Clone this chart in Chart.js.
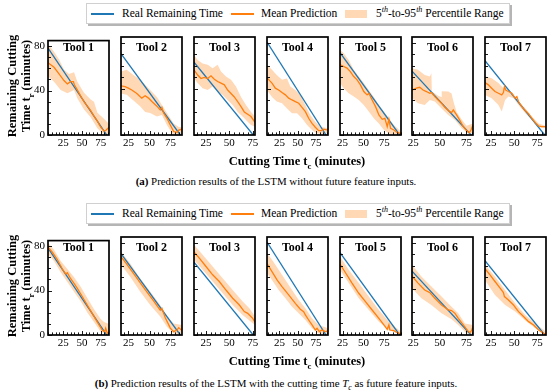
<!DOCTYPE html>
<html><head><meta charset="utf-8">
<script src="https://cdn.jsdelivr.net/npm/chart.js@4.4.0/dist/chart.umd.min.js"></script>
<style>
html,body{margin:0;padding:0;background:#fff;}
body{width:550px;height:392px;position:relative;overflow:hidden;font-family:'Liberation Serif',serif;color:#000;}
canvas{position:absolute;}
.legend{position:absolute;left:86px;width:422px;height:19px;border:1px solid #d0d0d0;background:#fff;box-shadow:2px 2px 0 #b5b5b5;font-size:11.5px;}
.legend .ln{position:absolute;top:9px;width:23px;height:1.5px;}
.legend .tx{position:absolute;top:2px;line-height:15px;white-space:nowrap;}
.legend .pt{position:absolute;top:6px;width:22px;height:8px;background:rgba(255,127,14,0.3);}
.cap{position:absolute;left:0;width:552px;text-align:center;font-size:10.9px;white-space:nowrap;}
.xt{position:absolute;left:197px;width:200px;text-align:center;font-weight:bold;font-size:12.5px;white-space:nowrap;}
.yt{position:absolute;left:-42px;width:120px;height:26px;line-height:14px;text-align:center;font-weight:bold;font-size:12.5px;transform:rotate(-90deg);white-space:nowrap;}
.tool{position:absolute;width:61px;text-align:center;font-weight:bold;font-size:12px;line-height:14px;}
sub,sup{font-size:70%;line-height:0;}
</style>
</head><body>
<script>
// ---------------- DATA ----------------
const tools = ['Tool 1','Tool 2','Tool 3','Tool 4','Tool 5','Tool 6','Tool 7'];
const xTickVals = [25, 50, 75];
const yTickVals = [0, 40, 80];
const yMax = 85;
const xMin = [4.7, 16.1, 12.3, 8.1, 21.9, 23.9, 18.5];
const xMax = [86, 88.6, 77.4, 91.4, 95, 81.1, 84.4];

// real remaining time (start, end) per tool
const realTime = [
  [[4.7,78.3],[83,0]], [[16.1,70.5],[86.6,0]], [[12.3,63.2],[75.5,0]], [[8.1,80.6],[88.7,0]],
  [[21.9,71.5],[93.4,0]], [[23.9,55.4],[79.3,0]], [[18.5,64.5],[83,0]]
];

// (a) LSTM without future feature inputs
const meanA = [
  [[4.7,65],[12.7,61],[19.4,55],[26,49],[30.5,46],[34.9,48],[38.5,48],[40,45],[43.8,40.6],[48.3,35],[52.7,30],[57.1,26],[61.6,22],[66,17],[70.5,12.5],[74.9,7],[79.4,3.5],[81.6,4],[86,7]],
  [[16.1,42.6],[20.9,42],[24.9,40.6],[28.9,39],[34.9,36],[40.8,32],[44.8,34],[48.8,32],[52.8,29],[58.8,25],[62.7,21.7],[64.7,24],[66.7,19],[70.7,14.5],[74.7,8.7],[78.7,3],[82.7,2.3],[84.7,4.3],[88.6,5]],
  [[12.3,56.5],[16.2,52],[19.8,49],[23.3,50],[26.9,49],[30.4,51.3],[34,48.4],[37.5,46.4],[41.1,45],[44.7,43.5],[48.2,39],[51.8,36],[55.3,33],[58.9,29],[62.5,24.6],[66,20],[69.6,18],[73.1,16],[77.4,11]],
  [[8.1,49.5],[14.9,45],[19.5,40.6],[24,39],[28.6,36.8],[33.2,34.8],[37.7,32],[42.3,30.4],[46.8,29],[51.4,27.5],[55.9,24],[60.5,20.3],[65,14.5],[69.6,10],[74.1,6.7],[78.7,3.8],[83.2,3.8],[85.5,5],[91.4,4.3]],
  [[21.9,61],[26.3,59.4],[30.3,58],[34.3,55],[38.4,50.7],[42.4,47.8],[46.4,43.5],[50.4,37.7],[54.4,34.8],[56.4,36.2],[60.4,30.4],[64.5,24.6],[68.5,17.4],[72.5,13.6],[75.7,14.5],[78.5,7.2],[80.5,13.6],[82.5,5.8],[86.5,4.3],[90.6,2],[95,1.4]],
  [[23.9,39],[28,40.6],[31.1,41.4],[34.3,39],[37.4,37.7],[40.6,36.2],[42.1,36.8],[45.3,33.3],[48.4,30.4],[51.6,27.5],[54.7,24],[57.9,21.2],[61,19.4],[62.6,21.7],[65.7,17.4],[68.9,12.5],[72,7.2],[75.2,3.8],[77.7,2],[79.2,4.3],[81.1,8.7]],
  [[18.5,45.5],[22.1,43.5],[25.7,40.6],[29.3,37.7],[33,36.2],[36.6,34.8],[38.4,36.8],[39.5,42],[40.9,39],[43.8,37.7],[47.5,36.2],[51.1,32],[52.9,33.3],[54.7,29],[58.3,24.6],[62,21.2],[65.6,18.3],[69.2,14.5],[72.8,10.7],[76.4,7.8],[79.3,7.2],[84.4,7.2]]
];
const hiA = [
  [[4.7,82],[12.7,75],[19.4,68],[26,59],[32.7,55],[39.4,56.5],[43.8,48],[52.7,38],[61.6,32],[66,30],[70.5,20],[77.1,16],[81.6,13],[86,10]],
  [[16.1,55],[22.9,56.5],[30.9,52],[38.8,48],[42.8,45],[50.8,39],[58.8,33],[64.7,26],[70.7,19],[78.7,10],[84.7,7],[88.6,6.7]],
  [[12.3,69.6],[16.2,65],[21.5,62],[26.9,61],[32.2,58],[37.5,61],[41.1,55],[46.4,50.7],[51.8,48],[57.1,42],[62.5,33],[67.8,26],[73.1,20],[77.4,16]],
  [[8.1,61],[14.9,56.5],[21.4,52],[28.6,48],[35.4,49],[40,42],[46.8,39],[53.6,34.8],[60.5,26],[67.3,17.4],[74.1,11.6],[81,7.2],[91.4,5.8]],
  [[21.9,74],[26.3,71],[32.3,65],[38.4,56.5],[44.4,50.7],[50.4,45],[56.4,39],[62.4,33],[68.5,26],[74.5,20.3],[80.5,14.5],[86.5,8.7],[95,2.9]],
  [[23.9,58],[29.5,56.5],[35.8,52],[40.6,50.7],[42.1,53.6],[42.5,38],[48.4,34],[51.4,33],[51.8,38],[57.9,37.7],[61,36],[62.5,30],[65.7,20],[70,14],[75,8],[81.1,10]],
  [[18.5,51],[25.7,49.3],[33,45],[38.4,40.6],[39.5,43],[42,39],[47.5,34.8],[54.7,29],[62,23.2],[69.2,16],[76.4,10],[84.4,7.8]]
];
const loA = [
  [[4.7,53],[12.7,48],[21.6,40.6],[30.5,37.7],[39.4,40.6],[43.8,33],[52.7,23],[61.6,16],[70.5,6],[77.1,1.5],[86,0]],
  [[16.1,36],[22.9,35],[30.9,30],[38.8,25],[44.8,20],[50.8,19],[58.8,16],[64.7,17.4],[70.7,8.7],[76.7,1.5],[82.7,0],[88.6,1.5]],
  [[12.3,49],[16.2,45],[21.5,40.6],[26.9,39],[32.2,42],[37.5,37.7],[42.9,34.8],[48.2,30.4],[53.6,26],[58.9,20],[64.2,16],[69.6,11.6],[73.1,8.7],[77.4,7.2]],
  [[8.1,39],[14.9,33],[21.4,29],[28.6,27.5],[35.4,23],[42.3,18.8],[49.1,18.8],[55.9,14.5],[62.8,8.7],[69.6,4.3],[76.4,1.4],[83.2,1],[91.4,1.4]],
  [[21.9,45],[26.3,40.6],[32.3,36.2],[38.4,33.3],[44.4,30.4],[50.4,26],[56.4,20.3],[62.4,14.5],[68.5,10],[74.5,4.3],[80.5,1.4],[86.5,0.6],[95,0.3]],
  [[23.9,32],[29.5,27.5],[35.8,26],[40.6,30.4],[45.3,29],[51.6,23],[57.9,17.4],[64.2,13],[70.4,5.8],[76.7,1.4],[81.1,1.4]],
  [[18.5,34.8],[25.7,31.9],[33,26],[36.6,20.3],[40.2,30.4],[43.8,33.3],[49.3,31.9],[54.7,26],[62,18.8],[69.2,13],[76.4,6.7],[84.4,5.8]]
];

// (b) LSTM with cutting time Tc as future feature input
const meanB = [
  [[4.7,79],[10.5,74.5],[17.1,68],[23.8,59.4],[28.3,55],[30.5,56],[34.9,50.7],[39.4,46.4],[43.8,42],[52.7,32],[61.6,21.7],[70.5,11.6],[77.1,4.3],[80.3,2.9],[81.6,6],[83.8,1.4],[86,3]],
  [[16.1,68],[22.9,61.5],[30.9,53.5],[38.8,45.5],[46.8,37.5],[54.8,29.5],[62.7,21.5],[64.7,23.2],[68.7,15],[74.7,6],[78.7,2.9],[82.7,4.3],[84.7,6.4],[88.6,3.8]],
  [[12.3,72],[18,66.7],[25.1,59.4],[32.2,52.2],[39.3,46.4],[46.4,39],[53.6,31.9],[60.7,26],[66,20.3],[69.6,18.8],[71.4,17.4],[74.9,14.5],[77.4,11]],
  [[8.1,62],[14.9,55],[21.8,47.8],[28.6,42],[37.7,34.8],[46.8,27.5],[53.6,22.3],[58.2,20.3],[60.5,17.4],[65,13],[69.6,8.7],[74.1,4.3],[76.4,5.8],[79.6,2.9],[83.2,4.3],[87.8,2.9],[91.4,3.5]],
  [[21.9,61.5],[28.3,54.2],[36.3,45],[44.4,36.2],[52.4,29],[60.4,21.7],[68.5,14.5],[74.5,8.7],[78.5,4.9],[80.5,8.7],[81.7,4.3],[86.5,3.8],[90.6,2],[95,0.9]],
  [[23.9,51],[29.6,45],[35.8,39],[40.6,36.8],[45.3,31.9],[51.6,26],[57.9,21.7],[61,21.2],[64.2,18.8],[67.3,14.5],[72,8.7],[76.1,3.8],[78.3,2],[79.9,4.3],[81.1,7.2]],
  [[18.5,57.5],[23.9,52.2],[29.3,46.4],[34.8,40.6],[38.4,36.8],[39.5,33.3],[43.8,30.4],[49.3,26],[54.7,20.3],[60.1,16],[65.6,11.6],[71,8.7],[76.4,4.3],[81.9,1.4],[84.4,0.9]]
];
const hiB = [
  [[4.7,83],[12.7,76.8],[21.6,66.7],[30.5,59.4],[39.4,52],[48.3,43.5],[57.1,33.3],[66,23.2],[74.9,14.5],[79.4,11.6],[86,10]],
  [[16.1,72.5],[26.9,62.3],[38.8,49.3],[50.8,37.7],[62.7,26],[70.7,16],[78.7,10],[88.6,8.7]],
  [[12.3,78.3],[21.5,69.6],[32.2,59.4],[42.9,49.3],[53.6,39],[64.2,29],[71.4,23.2],[77.4,16]],
  [[8.1,71],[14.9,65.2],[24,56.5],[33.2,47.8],[42.3,39],[51.4,30.4],[60.5,23.2],[69.6,14.5],[78.7,8.7],[91.4,5.8]],
  [[21.9,68],[32.3,56.5],[44.4,45],[56.4,33.3],[68.5,21.7],[80.5,11.6],[95,2.9]],
  [[23.9,61],[32.7,50.7],[42.1,42],[51.6,33.3],[61,24.6],[67.3,18.8],[73.6,10],[81.1,8.7]],
  [[18.5,61],[29.3,50.7],[40.2,39],[51.1,27.5],[62,17.4],[72.8,10],[84.4,2.9]]
];
const loB = [
  [[4.7,73],[12.7,66.7],[21.6,56.5],[30.5,47.8],[39.4,39],[48.3,30.4],[57.1,20.3],[66,11.6],[74.9,2.9],[86,0]],
  [[16.1,61],[26.9,50.7],[38.8,37.7],[50.8,26],[62.7,16],[70.7,7.2],[78.7,1.4],[88.6,0.6]],
  [[12.3,65.2],[21.5,56.5],[32.2,46.4],[42.9,36.2],[53.6,26],[64.2,17.4],[71.4,12.5],[77.4,8.7]],
  [[8.1,53.6],[14.9,47.8],[24,39],[33.2,31.9],[42.3,24.6],[51.4,18.8],[60.5,13],[69.6,5.8],[78.7,1.4],[91.4,0.9]],
  [[21.9,56.5],[32.3,45],[44.4,31.9],[56.4,21.7],[68.5,11.6],[80.5,4.3],[95,0.3]],
  [[23.9,40.6],[32.7,31.9],[42.1,26],[51.6,18.8],[61,13.6],[67.3,8.7],[75.2,1.4],[81.1,0.6]],
  [[18.5,47.8],[29.3,34.8],[40.2,26],[51.1,20.3],[62,12.5],[72.8,5.8],[84.4,0.6]]
];

// ---------------- LAYOUT ----------------
const BLUE = '#1f77b4', ORANGE = '#ff7f0e', BAND = 'rgba(255,127,14,0.3)';
const FONT = "'Liberation Serif', serif";
const panelLeft = [48, 121, 194, 267, 340, 412, 485];
const rows = [
  {top: 37, mean: meanA, hi: hiA, lo: loA},
  {top: 237, mean: meanB, hi: hiB, lo: loB}
];
const PW = 61, PH = 98, PADL = 22, PADT = 6, PADR = 8, PADB = 18;

const pts = arr => arr.map(p => ({x: p[0], y: p[1]}));

const frameTicks = {
  id: 'frameTicks',
  afterDatasetsDraw(chart) {
    const {ctx, chartArea: a, scales: {x, y}} = chart;
    ctx.save();
    ctx.strokeStyle = '#000';
    ctx.lineWidth = 0.9;
    for (let v = Math.ceil(x.min / 5) * 5; v <= x.max; v += 5) {
      const px = Math.round(x.getPixelForValue(v)) + 0.5;
      const len = (v % 25 === 0) ? 4 : 2.6;
      ctx.beginPath(); ctx.moveTo(px, a.bottom); ctx.lineTo(px, a.bottom - len); ctx.stroke();
    }
    for (let v = 0; v <= y.max; v += 10) {
      const py = Math.round(y.getPixelForValue(v)) + 0.5;
      const len = (v % 40 === 0) ? 4 : 3;
      ctx.beginPath(); ctx.moveTo(a.left, py); ctx.lineTo(a.left + len, py); ctx.stroke();
    }
    ctx.lineWidth = 1.7;
    ctx.strokeRect(a.left, a.top, a.width, a.height);
    ctx.restore();
  }
};

rows.forEach((row, r) => {
  tools.forEach((name, i) => {
    const c = document.createElement('canvas');
    const W = PADL + PW + PADR, H = PADT + PH + PADB;
    c.width = W; c.height = H;
    c.style.width = W + 'px'; c.style.height = H + 'px';
    c.style.left = (panelLeft[i] - PADL) + 'px';
    c.style.top = (row.top - PADT) + 'px';
    document.body.appendChild(c);

    const t = document.createElement('div');
    t.className = 'tool';
    t.textContent = name;
    t.style.left = panelLeft[i] + 'px';
    t.style.top = (row.top + 3) + 'px';
    document.body.appendChild(t);

    new Chart(c, {
      type: 'line',
      data: {
        datasets: [
          {data: pts(row.lo[i]), borderColor: 'rgba(0,0,0,0)', borderWidth: 0, pointRadius: 0, fill: false, order: 4},
          {data: pts(row.hi[i]), borderColor: 'rgba(0,0,0,0)', borderWidth: 0, pointRadius: 0, fill: '-1', backgroundColor: BAND, order: 3},
          {data: pts(realTime[i]), borderColor: BLUE, borderWidth: 1.3, pointRadius: 0, fill: false, order: 2},
          {data: pts(row.mean[i]), borderColor: ORANGE, borderWidth: 1.3, pointRadius: 0, fill: false, order: 1}
        ]
      },
      options: {
        responsive: false,
        animation: false,
        devicePixelRatio: 1,
        layout: {padding: {left: 0, top: PADT, right: PADR, bottom: 0}},
        plugins: {legend: {display: false}, tooltip: {enabled: false}},
        elements: {line: {tension: 0}},
        scales: {
          x: {
            type: 'linear', min: xMin[i], max: xMax[i],
            grid: {display: false, drawTicks: false}, border: {display: false},
            afterBuildTicks: s => { s.ticks = xTickVals.map(v => ({value: v})); },
            afterFit: s => { s.height = PADB; },
            ticks: {font: {family: FONT, size: 11}, color: '#000', padding: 2, maxRotation: 0, autoSkip: false}
          },
          y: {
            type: 'linear', min: 0, max: yMax,
            grid: {display: false, drawTicks: false}, border: {display: false},
            afterBuildTicks: s => { s.ticks = yTickVals.map(v => ({value: v})); },
            afterFit: s => { s.width = PADL; },
            ticks: {display: i === 0, font: {family: FONT, size: 11}, color: '#000', padding: 3, autoSkip: false}
          }
        }
      },
      plugins: [frameTicks]
    });
  });
});
</script>

<div class="legend" style="top:3px">
  <div class="ln" style="left:4px;background:#1f77b4"></div>
  <div class="tx" style="left:35px">Real Remaining Time</div>
  <div class="ln" style="left:144px;background:#ff7f0e"></div>
  <div class="tx" style="left:174px">Mean Prediction</div>
  <div class="pt" style="left:258px"></div>
  <div class="tx" style="left:289px">5<sup><i>th</i></sup>-to-95<sup><i>th</i></sup> Percentile Range</div>
</div>
<div class="legend" style="top:203px">
  <div class="ln" style="left:4px;background:#1f77b4"></div>
  <div class="tx" style="left:35px">Real Remaining Time</div>
  <div class="ln" style="left:144px;background:#ff7f0e"></div>
  <div class="tx" style="left:174px">Mean Prediction</div>
  <div class="pt" style="left:258px"></div>
  <div class="tx" style="left:289px">5<sup><i>th</i></sup>-to-95<sup><i>th</i></sup> Percentile Range</div>
</div>

<div class="yt" style="top:73px">Remaining Cutting<br>Time t<sub>r</sub> (minutes)</div>
<div class="yt" style="top:273px">Remaining Cutting<br>Time t<sub>r</sub> (minutes)</div>
<div class="xt" style="top:154px">Cutting Time t<sub>c</sub> (minutes)</div>
<div class="xt" style="top:354px">Cutting Time t<sub>c</sub> (minutes)</div>
<div class="cap" style="top:175px"><b>(a)</b> Prediction results of the LSTM without future feature inputs.</div>
<div class="cap" style="top:377px"><b>(b)</b> Prediction results of the LSTM with the cutting time <i>T<sub>c</sub></i> as future feature inputs.</div>
</body></html>
